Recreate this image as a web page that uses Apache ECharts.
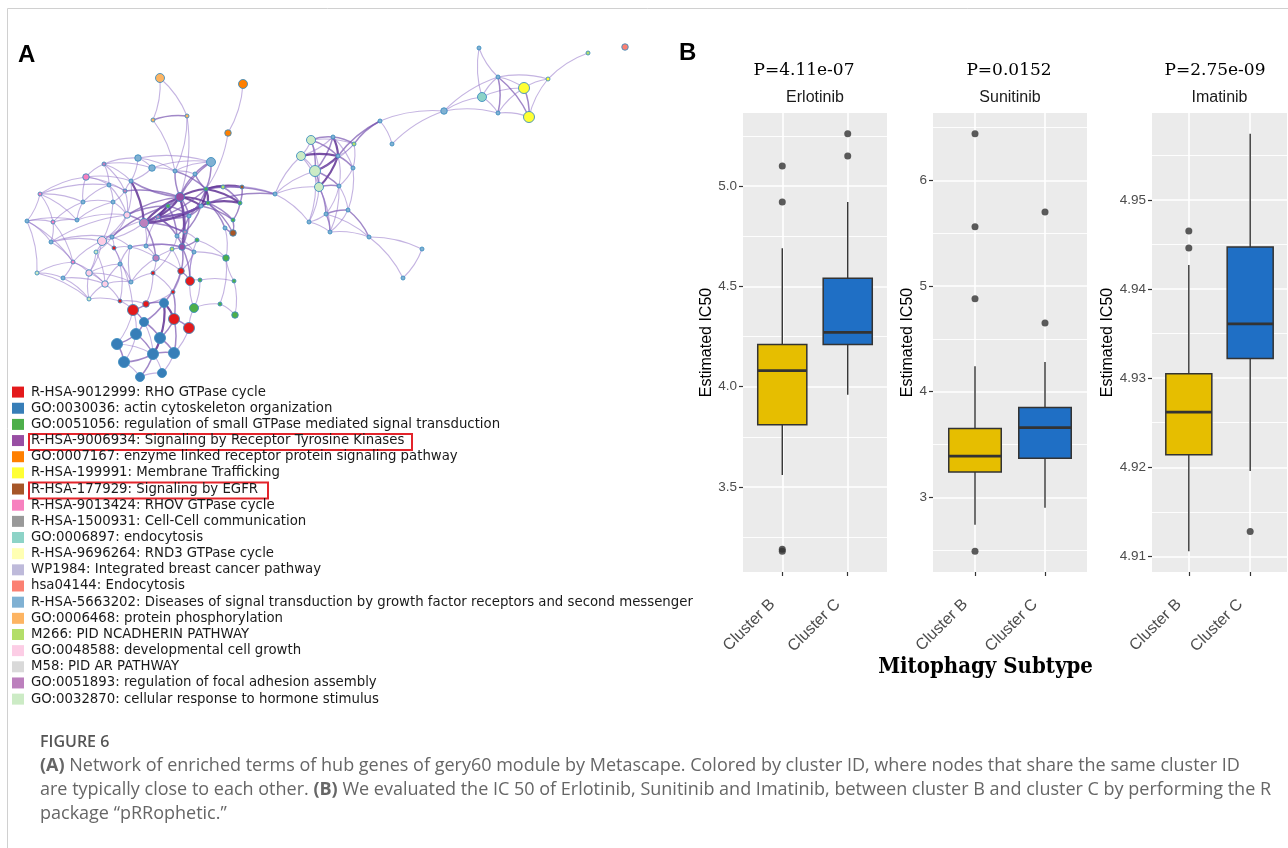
<!DOCTYPE html>
<html>
<head>
<meta charset="utf-8">
<title>Figure 6</title>
<script src="https://cdn.jsdelivr.net/npm/echarts@6.0.0/dist/echarts.min.js"></script>
<style>
  html, body { margin: 0; padding: 0; background: #ffffff; }
  #main { width: 1288px; height: 848px; }
</style>
</head>
<body>
<div id="main"></div>
<script>
// ---------------- Panel A: enriched-term network ----------------
const termNames = [
  'R-HSA-9012999: RHO GTPase cycle',
  'GO:0030036: actin cytoskeleton organization',
  'GO:0051056: regulation of small GTPase mediated signal transduction',
  'R-HSA-9006934: Signaling by Receptor Tyrosine Kinases',
  'GO:0007167: enzyme linked receptor protein signaling pathway',
  'R-HSA-199991: Membrane Trafficking',
  'R-HSA-177929: Signaling by EGFR',
  'R-HSA-9013424: RHOV GTPase cycle',
  'R-HSA-1500931: Cell-Cell communication',
  'GO:0006897: endocytosis',
  'R-HSA-9696264: RND3 GTPase cycle',
  'WP1984: Integrated breast cancer pathway',
  'hsa04144: Endocytosis',
  'R-HSA-5663202: Diseases of signal transduction by growth factor receptors and second messenger',
  'GO:0006468: protein phosphorylation',
  'M266: PID NCADHERIN PATHWAY',
  'GO:0048588: developmental cell growth',
  'M58: PID AR PATHWAY',
  'GO:0051893: regulation of focal adhesion assembly',
  'GO:0032870: cellular response to hormone stimulus'
];
const termColors = [
  '#E41A1C', '#377EB8', '#4DAF4A', '#984EA3', '#FF7F00', '#FFFF33', '#A65628',
  '#F781BF', '#999999', '#8DD3C7', '#FFFFB3', '#BEBADA', '#FB8072', '#80B1D3',
  '#FDB462', '#B3DE69', '#FCCDE5', '#D9D9D9', '#BC80BD', '#CCEBC5'
];

// node layout (network layout units), cluster index and size class
const nodeX = [160,243,153,187,228,138,152,211,104,86,40,83,27,53,77,51,73,37,63,89,
  109,125,131,113,127,144,102,112,96,114,89,105,120,131,130,146,156,158,175,180,
  195,206,223,242,168,201,208,240,189,233,233,225,185,177,197,182,172,194,226,153,
  181,190,200,234,173,120,146,133,164,194,220,235,174,189,144,136,160,117,153,174,
  124,140,162,275,311,333,354,301,338,315,353,319,339,326,348,309,330,369,422,403,
  380,392,444,482,498,498,524,529,548,479,588,625];
const nodeY = [78,84,120,116,133,158,168,162,164,177,194,202,221,222,220,242,262,273,278,299,
  185,191,181,202,215,223,241,237,252,248,273,284,264,282,247,246,258,217,171,197,
  174,189,187,187,206,206,203,203,216,220,233,228,232,236,240,247,249,252,258,273,
  271,281,280,281,292,301,304,310,303,308,304,315,319,328,322,334,338,344,354,353,
  362,377,373,194,140,137,144,156,156,171,168,187,186,214,210,222,232,237,249,278,
  121,144,111,97,77,113,88,117,79,48,53,47];
const nodeTerm = [14,4,14,14,4,13,13,13,18,7,7,13,13,7,13,13,7,19,13,19,
  13,18,13,13,16,18,16,13,19,0,16,16,13,13,13,13,18,18,13,3,
  13,2,15,6,2,13,2,2,13,2,6,13,18,13,2,3,15,13,2,0,
  0,0,2,2,0,0,0,0,1,2,2,2,0,0,1,1,1,1,1,1,
  1,1,1,13,19,13,15,19,13,19,13,19,13,13,13,13,13,13,13,13,
  13,13,13,9,13,13,5,5,5,13,15,12];
const nodeSize = [3,3,1,1,2,2,2,3,1,2,1,1,1,1,1,1,1,1,1,1,
  1,1,1,1,2,3,3,1,1,1,2,2,1,1,1,1,2,1,1,3,
  1,1,1,1,1,1,1,1,1,1,2,1,1,1,1,2,1,1,2,1,
  2,3,1,1,1,1,2,4,3,3,1,2,4,4,3,4,4,4,4,4,
  4,3,3,1,3,1,1,3,1,4,1,3,1,1,1,1,1,1,1,1,
  1,1,2,3,1,1,4,4,1,1,1,2];

// edges: [source, target, strength]
const edgeList = [
  [0,2],[0,3],[2,3,2],[2,38],[3,38],[3,39],[1,4],[4,41],
  [10,12],[10,13],[10,9],[10,14],[12,13],[12,15],[12,17],[13,14],[13,15],[14,11],[11,9],[9,8],[9,20],
  [8,22],[8,20],[8,5],[5,6],[5,7],[6,7],[6,22],[15,16],[16,18],[17,18],[17,19],[18,19],[19,31],[19,65],
  [16,30],[15,27],[14,24],[11,23],[20,21],[21,22],[21,23],[22,24],[23,24],[20,23],[24,25,2],[24,26],
  [25,26],[26,27],[26,28],[26,30],[27,29],[28,30],[30,31],[30,32],[31,32],[31,33],[32,34],[33,34],
  [34,35],[35,36],[29,34],[25,37],[25,35],[25,39,3],[37,39,2],[37,48],[36,55],[36,59],[33,59],[32,65],[31,65],
  [10,11],[12,14],[13,11],[9,22],[9,21],[8,21],[11,20],[14,23],[15,26],[15,24],[16,26],[17,16],[18,31],
  [16,31],[19,30],[13,16],[12,16],[10,20],[8,6],[5,22],[6,38],[20,24],[21,24],[23,26],[27,28],[27,34],
  [28,31],[29,32],[32,33],[33,36],[34,36],[35,37],[24,27],[26,29],[30,33],
  [39,41,3],[39,45,3],[39,46,3],[39,44,2],[39,38,2],[39,40,2],[39,55,3],[41,42,2],[41,43,3],[41,47,3],
  [41,45,3],[46,47,3],[46,49,2],[45,48,2],[45,52,2],[48,53,2],[41,83,2],[46,83,2],[42,83],[43,47,2],
  [47,49,2],[49,50,2],[50,51,2],[51,58],[46,51,2],[44,53,2],[53,55,2],[52,55,2],[54,55,2],[55,57,2],
  [55,60,2],[54,58],[57,58],[55,56],[56,59],[44,25,3],[44,37,2],[38,40],[38,7],[40,7,2],[7,41,2],[5,38],
  [22,25,3],[24,39,2],[26,37],[27,44,2],[39,22,2],[45,25,3],[46,37,2],[52,37,2],[41,25,2],[48,37,2],
  [39,37,3],[39,48,2],[39,52,2],[41,46,3],[45,46,3],[41,48,2],[42,47,2],[45,49,2],[46,50,2],[41,40,2],
  [39,7,2],[38,41,2],[45,37,2],[44,48,2],[37,53,2],[25,52,2],[21,39,2],[24,44,2],[25,36,2],[35,55,2],
  [34,55],[53,57],[48,55,2],[52,54],[57,60],[56,60],[53,56],
  [60,61,2],[60,64],[61,62],[61,54],[61,57],[62,63],[62,69],[63,58],[63,71],[70,71],[69,70],[69,61],
  [58,70],[59,66],[60,68,2],[64,66],[64,72,2],[65,67],[66,67,2],[67,74,2],[67,75],[67,77],[66,68,2],
  [68,72,3],[68,74,2],[68,76,3],[72,73,2],[72,76,2],[72,79,2],[73,79],[73,69],[74,75,2],[74,76,2],
  [75,77,2],[75,78,2],[75,80],[76,78,3],[76,79,2],[77,80,2],[78,79,2],[78,80,2],[78,81,2],[78,82],
  [80,81],[81,82],[79,82],[77,78],[74,78],[55,61,2],[36,60],[59,64],[29,67],[65,66],
  [83,87],[83,89],[83,91],[83,95],[84,85,2],[84,87],[84,88,2],[84,89,2],[85,86,2],[85,88,3],[85,89,2],
  [86,88],[86,90],[86,100,2],[88,100,2],[87,88,3],[87,89],[88,89,3],[88,90,2],[88,91,3],[89,91,2],
  [89,92,2],[90,92],[91,92,2],[91,93,2],[92,93],[92,94],[93,94,2],[93,95],[93,96,2],[94,96],[95,96],
  [94,97,2],[96,97],[97,98],[97,99],[98,99],[100,101],[101,102],[100,102],[102,103],[102,105],
  [84,86],[85,87],[87,91],[84,91],[86,89],[90,94],[92,96],[88,92],[85,90],[89,95],[91,95],[91,96],[93,97],
  [103,104],[103,105],[103,106],[104,105,2],[104,106],[104,107,2],[104,108],[105,106],[105,107],
  [106,107,2],[106,108],[107,108],[108,110],[104,109],[103,109],[102,104]
];
const highlightedTerms = [3, 6];

// ---------------- Panel B: estimated IC50 by mitophagy subtype ----------------
const drugs = ['Erlotinib', 'Sunitinib', 'Imatinib'];
const pValueLabels = ['P=4.11e-07', 'P=0.0152', 'P=2.75e-09'];
const subtypes = ['Cluster B', 'Cluster C'];
// [lower whisker, Q1, median, Q3, upper whisker] for Cluster B, Cluster C
const erlotinibBox = [[3.56, 3.81, 4.08, 4.21, 4.69], [3.96, 4.21, 4.27, 4.54, 4.92]];
const sunitinibBox = [[2.74, 3.24, 3.39, 3.65, 4.24], [2.90, 3.37, 3.66, 3.85, 4.28]];
const imatinibBox = [[4.9106, 4.9214, 4.9262, 4.9305, 4.9427], [4.9196, 4.9322, 4.9361, 4.9447, 4.9574]];
// outlying points for Cluster B, Cluster C
const erlotinibOutliers = [[5.10, 4.92, 3.19, 3.18], [5.26, 5.15]];
const sunitinibOutliers = [[6.44, 5.56, 4.88, 2.49], [5.70, 4.65]];
const imatinibOutliers = [[4.9465, 4.9446], [4.9128]];
const majorTicks = [[3.5, 4.0, 4.5, 5.0], [3, 4, 5, 6], [4.91, 4.92, 4.93, 4.94, 4.95]];
const minorTicks = [[3.25, 3.75, 4.25, 4.75, 5.25], [2.5, 3.5, 4.5, 5.5, 6.5], [4.915, 4.925, 4.935, 4.945, 4.955]];
const tickDecimals = [1, 0, 2];

const boxData = [erlotinibBox, sunitinibBox, imatinibBox];
const outlierData = [erlotinibOutliers, sunitinibOutliers, imatinibOutliers];

// ---------------- styling / layout ----------------
const SANS = '"Liberation Sans", Arial, sans-serif';
const SERIF = '"DejaVu Serif", serif';
const BOX_COLORS = ['#E6BE00', '#1F6FC5'];
const BOX_WIDTH = 0.75;
const PANELS = [
  { left: 743, width: 144, nameGap: 27.5, pCenter: 804 },
  { left: 933, width: 154, nameGap: 17.5, pCenter: 1009 },
  { left: 1152, width: 135, nameGap: 36.5, pCenter: 1215 }
];
const PANEL_TOP = 113, PANEL_HEIGHT = 459;
const NODE_PX = [0, 4, 6.5, 9, 11];
const EDGE_STYLE = {
  1: { width: 1.1, color: '#9474C8', opacity: 0.55 },
  2: { width: 1.5, color: '#7450AE', opacity: 0.68 },
  3: { width: 2.2, color: '#5A2B90', opacity: 0.82 }
};
const LEGEND_TOP = 384, LEGEND_ROW = 16.16;

function drawBox(params, api) {
  const g = api.value(0);
  const pLow = api.coord([g, api.value(1)]);
  const pQ1 = api.coord([g, api.value(2)]);
  const pMed = api.coord([g, api.value(3)]);
  const pQ3 = api.coord([g, api.value(4)]);
  const pHigh = api.coord([g, api.value(5)]);
  const half = api.size([BOX_WIDTH, 0])[0] / 2;
  const ink = '#333333';
  return {
    type: 'group',
    children: [
      { type: 'line', shape: { x1: pLow[0], y1: pLow[1], x2: pQ1[0], y2: pQ1[1] }, style: { stroke: ink, lineWidth: 1.4 } },
      { type: 'line', shape: { x1: pQ3[0], y1: pQ3[1], x2: pHigh[0], y2: pHigh[1] }, style: { stroke: ink, lineWidth: 1.4 } },
      { type: 'rect', shape: { x: pQ3[0] - half, y: pQ3[1], width: half * 2, height: pQ1[1] - pQ3[1] },
        style: { fill: api.visual('color'), stroke: ink, lineWidth: 1.5 } },
      { type: 'line', shape: { x1: pMed[0] - half, y1: pMed[1], x2: pMed[0] + half, y2: pMed[1] }, style: { stroke: ink, lineWidth: 2.8 } }
    ]
  };
}

const grids = [], xAxes = [], yAxes = [], series = [];
PANELS.forEach(function (p, i) {
  const all = boxData[i].flat().concat(outlierData[i].flat());
  const lo = Math.min.apply(null, all), hi = Math.max.apply(null, all);
  const pad = (hi - lo) * 0.05;
  grids.push({ left: p.left, top: PANEL_TOP, width: p.width, height: PANEL_HEIGHT,
    show: true, backgroundColor: '#EBEBEB', borderWidth: 0 });
  xAxes.push({
    gridIndex: i, type: 'value', min: 0.4, max: 2.6,
    axisLine: { show: false },
    axisTick: { customValues: [1, 2], length: 4, lineStyle: { color: '#333333', width: 1.2 } },
    axisLabel: { customValues: [1, 2], formatter: function (v) { return subtypes[Math.round(v) - 1]; },
      rotate: 45, margin: 20, padding: [0, 14, 0, 0], fontSize: 16, color: '#4D4D4D', fontFamily: SANS },
    splitLine: { show: true, lineStyle: { color: '#FFFFFF', width: 1.6 } }
  });
  yAxes.push({
    gridIndex: i, type: 'value', min: lo - pad, max: hi + pad,
    axisLine: { show: false },
    axisTick: { customValues: majorTicks[i], length: 4, lineStyle: { color: '#333333', width: 1.2 } },
    axisLabel: { customValues: majorTicks[i], formatter: function (v) { return v.toFixed(tickDecimals[i]); },
      margin: 6, fontSize: 13.5, color: '#4D4D4D', fontFamily: SANS },
    splitLine: { show: true, lineStyle: { color: '#FFFFFF', width: 1.6 } },
    name: 'Estimated IC50', nameLocation: 'middle', nameGap: p.nameGap,
    nameTextStyle: { fontSize: 16, color: '#000000', fontFamily: SANS }
  });
  yAxes.push({
    gridIndex: i, type: 'value', min: lo - pad, max: hi + pad, position: 'left',
    axisLine: { show: false },
    axisTick: { show: false, customValues: minorTicks[i] },
    axisLabel: { show: false },
    splitLine: { show: true, lineStyle: { color: '#FFFFFF', width: 0.9 } }
  });
  series.push({
    type: 'custom', name: drugs[i], xAxisIndex: i, yAxisIndex: 2 * i, z: 3,
    renderItem: drawBox, encode: { x: 0, y: [1, 2, 3, 4, 5] }, silent: true,
    data: boxData[i].map(function (b, g) { return { value: [g + 1].concat(b), itemStyle: { color: BOX_COLORS[g] } }; })
  });
  series.push({
    type: 'scatter', name: drugs[i] + ' outliers', xAxisIndex: i, yAxisIndex: 2 * i, z: 4,
    symbolSize: 7, itemStyle: { color: '#333333' }, silent: true,
    data: outlierData[i].flatMap(function (vals, g) { return vals.map(function (v) { return [g + 1, v]; }); })
  });
});

// network
const minX = Math.min.apply(null, nodeX), maxX = Math.max.apply(null, nodeX);
const minY = Math.min.apply(null, nodeY), maxY = Math.max.apply(null, nodeY);
series.push({
  type: 'graph', layout: 'none', roam: false, silent: true, z: 2,
  left: minX, top: minY, width: maxX - minX, height: maxY - minY,
  categories: termNames.map(function (n, i) { return { name: n, itemStyle: { color: termColors[i] } }; }),
  data: nodeX.map(function (x, i) {
    return { name: 'T' + i, x: x, y: nodeY[i], category: nodeTerm[i], symbolSize: NODE_PX[nodeSize[i]] };
  }),
  links: edgeList.map(function (e) {
    return { source: e[0], target: e[1], lineStyle: EDGE_STYLE[e[2] || 1] };
  }),
  itemStyle: { borderColor: '#3F8EBF', borderWidth: 0.9 },
  lineStyle: { curveness: 0.12 },
  label: { show: false },
  emphasis: { disabled: true }
});

// free text and annotations
const graphics = [
  { type: 'line', shape: { x1: 7.5, y1: 8.5, x2: 1288, y2: 8.5 }, style: { stroke: '#D0D0D0', lineWidth: 1 } },
  { type: 'line', shape: { x1: 7.5, y1: 8.5, x2: 7.5, y2: 848 }, style: { stroke: '#D0D0D0', lineWidth: 1 } },
  { type: 'text', x: 18, y: 55, style: { text: 'A', fontSize: 24, fontWeight: 'bold', fontFamily: SANS, fill: '#000',
      verticalAlign: 'middle', textVerticalAlign: 'middle' } },
  { type: 'text', x: 679, y: 53, style: { text: 'B', fontSize: 24, fontWeight: 'bold', fontFamily: SANS, fill: '#000',
      verticalAlign: 'middle', textVerticalAlign: 'middle' } },
  { type: 'text', x: 985.5, y: 667, style: { text: 'Mitophagy Subtype', fontSize: 22, fontWeight: 'bold',
      fontFamily: '"DejaVu Serif Condensed", "DejaVu Serif", serif', fill: '#000',
      align: 'center', textAlign: 'center', verticalAlign: 'middle', textVerticalAlign: 'middle' } }
];
PANELS.forEach(function (p, i) {
  graphics.push({ type: 'text', x: p.pCenter, y: 71, style: { text: pValueLabels[i], fontSize: 17, fontFamily: SERIF, fill: '#000',
    align: 'center', textAlign: 'center', verticalAlign: 'middle', textVerticalAlign: 'middle' } });
  graphics.push({ type: 'text', x: p.left + p.width / 2, y: 97.5, style: { text: drugs[i], fontSize: 16, fontFamily: SANS, fill: '#1A1A1A',
    align: 'center', textAlign: 'center', verticalAlign: 'middle', textVerticalAlign: 'middle' } });
});
// boxes around the receptor tyrosine kinase and EGFR terms
const highlightWidths = [383, 239];
highlightedTerms.forEach(function (t, k) {
  const cy = LEGEND_TOP + LEGEND_ROW * (t + 0.5);
  graphics.push({ type: 'rect', shape: { x: 29, y: cy - 6.5, width: highlightWidths[k], height: 16 },
    style: { fill: 'none', stroke: '#E3242B', lineWidth: 2 } });
});
// caption
const CAP_FONT = '"Open Sans", "Noto Sans", sans-serif';
const CAP_SIZE = 18;
const capRich = { b: { fontWeight: 'bold', fontSize: CAP_SIZE, fontFamily: CAP_FONT, fill: '#666666' } };
const captionLines = [
  '{b|(A)} Network of enriched terms of hub genes of gery60 module by Metascape. Colored by cluster ID, where nodes that share the same cluster ID',
  'are typically close to each other. {b|(B)} We evaluated the IC 50 of Erlotinib, Sunitinib and Imatinib, between cluster B and cluster C by performing the R',
  'package \u201cpRRophetic.\u201d'
];
graphics.push({ type: 'text', x: 40, y: 742, style: { text: 'FIGURE 6', fontSize: 16, fontWeight: 600, fontFamily: CAP_FONT, fill: '#555555',
  verticalAlign: 'middle', textVerticalAlign: 'middle' } });
captionLines.forEach(function (line, k) {
  graphics.push({ type: 'text', x: 40, y: 766 + 24 * k, style: { text: line, rich: capRich, fontSize: CAP_SIZE, fontFamily: CAP_FONT, fill: '#666666',
    verticalAlign: 'middle', textVerticalAlign: 'middle' } });
});

const chart = echarts.init(document.getElementById('main'), null, { renderer: 'canvas' });
chart.setOption({
  backgroundColor: '#FFFFFF',
  animation: false,
  legend: {
    data: termNames, orient: 'vertical', left: 12, top: LEGEND_TOP, icon: 'rect',
    itemWidth: 12, itemHeight: 11, itemGap: 0, padding: 0, selectedMode: false,
    itemStyle: { borderWidth: 0 },
    textStyle: { fontFamily: '"DejaVu Sans", sans-serif', fontSize: 13.3, color: '#1A1A1A',
      lineHeight: LEGEND_ROW, padding: [0, 0, 0, 2] }
  },
  grid: grids,
  xAxis: xAxes,
  yAxis: yAxes,
  series: series,
  graphic: graphics
});
</script>
</body>
</html>
